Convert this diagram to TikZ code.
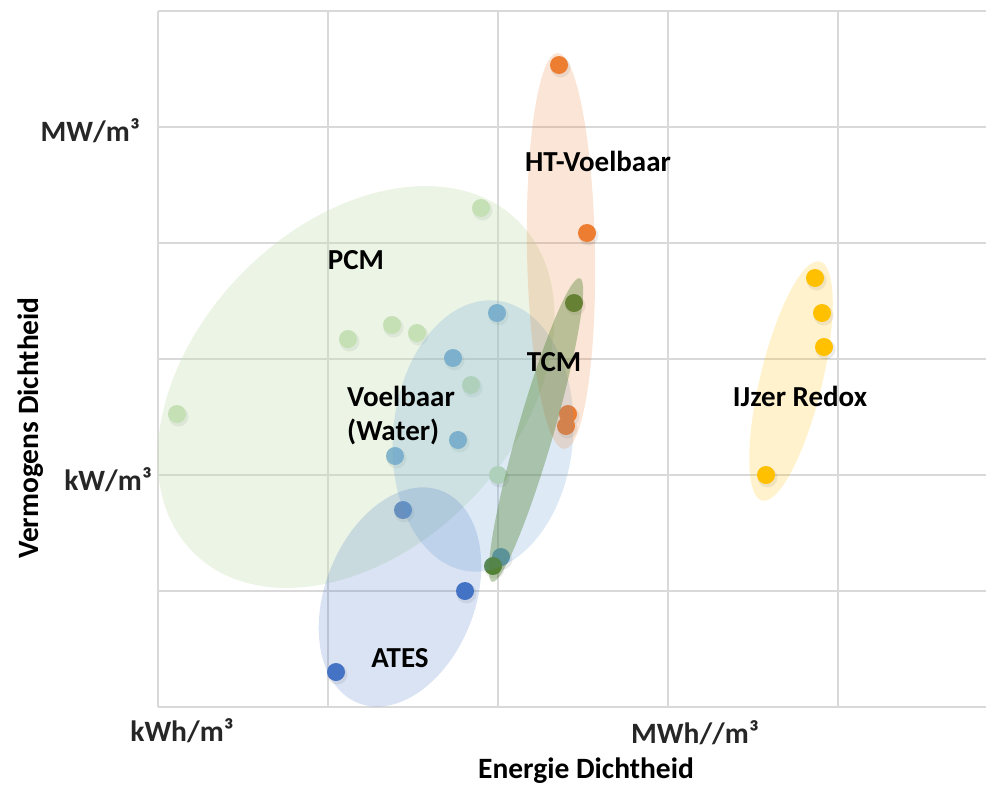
\documentclass[tikz,border=0pt]{standalone}
\usepackage{fontspec}
\setmainfont{Carlito}
\usetikzlibrary{calc, positioning}

\definecolor{gridgray}{HTML}{D9D9D9}
\definecolor{pcmgreen}{HTML}{C5E0B4}
\definecolor{waterblue}{HTML}{629FD6}
\definecolor{atesblue}{HTML}{4472C4}
\definecolor{tcmgreen}{HTML}{548235}
\definecolor{htorange}{HTML}{ED7D31}
\definecolor{redoxyellow}{HTML}{FFC000}
\definecolor{ticktext}{HTML}{262626}

\tikzset{
  gridline/.style={draw=gridgray, line width=1.6pt},
  dotshadow/.style={fill=black, fill opacity=0.08},
  blob/.style={fill=#1, fill opacity=0.2},
  grouplabel/.style={font=\bfseries\fontsize{29}{34}\selectfont, inner sep=0pt},
  ticklabel/.style={font=\bfseries\fontsize{29.5}{34}\selectfont, text=ticktext, inner sep=0pt},
  axistitle/.style={font=\bfseries\fontsize{29.5}{34}\selectfont, inner sep=0pt}
}

\begin{document}
\begin{tikzpicture}[x=1pt, y=-1pt]
  \useasboundingbox (0,0) rectangle (986,785);
  % Grid
  \foreach \gx in {158,328,498,668,838}
    \draw[gridline] (\gx,11) -- (\gx,707);
  \foreach \gy in {11,127,243,359,475,591,707}
    \draw[gridline] (158,\gy) -- (986,\gy);
  % PCM points
  \foreach \px/\py in {481/208, 348/339, 392/325, 417/333, 177/414, 471/385, 498/475}
    {\fill[dotshadow] (\px+1.5,\py+2.5) circle (10);
     \fill[pcmgreen] (\px,\py) circle (9);}
  % Voelbaar (Water) points
  \foreach \px/\py in {497/313, 453/358, 458/440, 395/456, 501/557}
    {\fill[dotshadow] (\px+1.5,\py+2.5) circle (10);
     \fill[waterblue] (\px,\py) circle (9);}
  % ATES points
  \foreach \px/\py in {403/510, 465/591, 336/672}
    {\fill[dotshadow] (\px+1.5,\py+2.5) circle (10);
     \fill[atesblue] (\px,\py) circle (9);}
  % TCM points
  \foreach \px/\py in {574/303, 493/566}
    {\fill[dotshadow] (\px+1.5,\py+2.5) circle (10);
     \fill[tcmgreen] (\px,\py) circle (9);}
  % HT-Voelbaar points
  \foreach \px/\py in {559/65, 587/233, 568/414, 566/426}
    {\fill[dotshadow] (\px+1.5,\py+2.5) circle (10);
     \fill[htorange] (\px,\py) circle (9);}
  % IJzer Redox points
  \foreach \px/\py in {815/278, 822/313, 824/347, 766/475}
    {\fill[dotshadow] (\px+1.5,\py+2.5) circle (10);
     \fill[redoxyellow] (\px,\py) circle (9);}
  % Clouds
  \fill[blob=pcmgreen, fill opacity=0.35, rotate around={46:(356,387)}] (356,387) ellipse [x radius=232, y radius=161];
  \fill[blob=waterblue, fill opacity=0.22, rotate around={84.6:(483,436)}] (483,436) ellipse [x radius=136, y radius=90];
  \fill[blob=atesblue, rotate around={68.6:(400,597)}] (400,597) ellipse [x radius=114, y radius=75];
  \fill[blob=htorange, rotate around={91:(561,251)}] (561,251) ellipse [x radius=198, y radius=34];
  \fill[blob=tcmgreen, fill opacity=0.38, rotate around={73.9:(536,430)}] (536,430) ellipse [x radius=158, y radius=18];
  \fill[blob=redoxyellow, rotate around={76.4:(791,381)}] (791,381) ellipse [x radius=123, y radius=31];
  % Labels
  \node[grouplabel] (pcm) at (356,260) {PCM};
  \node[grouplabel] (ht) at (598,161) {HT-Voelbaar};
  \node[grouplabel] (tcm) at (554,362) {TCM};
  \node[grouplabel, align=left, anchor=west] (water) at (347,416) {Voelbaar\\(Water)};
  \node[grouplabel] (redox) at (800,396) {IJzer Redox};
  \node[grouplabel] (ates) at (400,658) {ATES};
  % Axes
  \node[ticklabel, anchor=east] (mw) at (140,131) {MW/m³};
  \node[ticklabel, anchor=east] (kw) at (152,480) {kW/m³};
  \node[ticklabel] (kwh) at (182,731) {kWh/m³};
  \node[ticklabel] (mwh) at (695,733) {MWh//m³};
  \node[axistitle] (xtitle) at (586,771) {Energie Dichtheid};
  \node[axistitle, rotate=90] (ytitle) at (31,428) {Vermogens Dichtheid};
\end{tikzpicture}
\end{document}
